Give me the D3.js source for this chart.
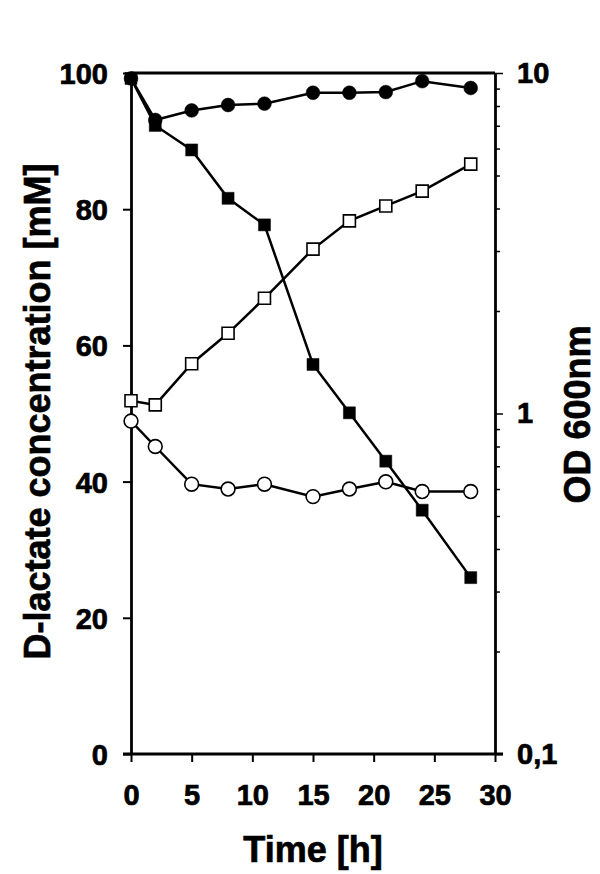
<!DOCTYPE html>
<html>
<head>
<meta charset="utf-8">
<script src="https://cdn.jsdelivr.net/npm/d3@7"></script>
<style>
  body { margin: 0; background: #fff; }
  svg { font-family: "Liberation Sans", Arial, sans-serif; font-weight: bold; }
  text { stroke: #000; stroke-width: 0.7px; }
</style>
</head>
<body>
<svg width="600" height="874"></svg>
<script>
// ---- data
const time = [0, 2, 5, 8, 11, 15, 18, 21, 24, 28];
// D-lactate [mM], left axis
const lactateCells = [99.2, 92.3, 88.7, 81.6, 77.7, 57.2, 50.1, 43.0, 35.8, 25.9];   // filled squares
const lactateControl = [99.2, 93.1, 94.5, 95.3, 95.5, 97.1, 97.1, 97.2, 98.8, 97.8]; // filled circles
// OD 600nm, right axis (log)
const odCells = [1.09, 1.06, 1.40, 1.72, 2.18, 3.04, 3.68, 4.07, 4.50, 5.40];       // open squares
const odControl = [0.95, 0.80, 0.62, 0.60, 0.62, 0.57, 0.60, 0.63, 0.59, 0.59];    // open circles

const xTicks = [0, 5, 10, 15, 20, 25, 30];
const yTicks = [0, 20, 40, 60, 80, 100];
const odLabels = { 0.1: '0,1', 1: '1', 10: '10' };

const margin = { left: 131, right: 105, top: 73, bottom: 120 };
const svg = d3.select('svg');
const width = 600 - margin.left - margin.right;
const height = 874 - margin.top - margin.bottom;

const g = svg.append('g')
  .attr('transform', `translate(${margin.left}, ${margin.top})`);

// ---- scales
const x = d3.scaleLinear().domain([0, 30]).range([0, width]);
const y = d3.scaleLinear().domain([0, 100]).range([height, 0]);
const yOD = d3.scaleLog().domain([0.1, 10]).range([height, 0]);

// frame top line
g.append('line')
  .attr('x1', 0).attr('x2', width)
  .attr('y1', 0).attr('y2', 0)
  .attr('stroke', '#000').attr('stroke-width', 2.8);

// ---- axes
function styleAxis(sel) {
  sel.select('.domain').attr('stroke-width', 2.8);
  sel.selectAll('.tick line').attr('stroke-width', 2);
  sel.selectAll('.tick text').attr('font-size', 29).attr('font-weight', 'bold').attr('fill', '#000');
}

g.append('g')
  .attr('transform', `translate(0, ${height})`)
  .call(d3.axisBottom(x).tickValues(xTicks).tickSize(8).tickSizeOuter(0).tickPadding(22))
  .call(styleAxis)
  .call(a => a.select('.domain').attr('d', `M-8,0H${width + 8}`));

g.append('g')
  .call(d3.axisLeft(y).tickValues(yTicks).tickSize(8).tickSizeOuter(0).tickPadding(15))
  .call(styleAxis)
  .call(a => a.selectAll('.tick text').attr('dy', '0.36em'));

const rightAxis = g.append('g')
  .attr('transform', `translate(${width}, 0)`)
  .call(d3.axisRight(yOD).tickValues(yOD.ticks()).tickSize(8).tickSizeOuter(0).tickPadding(14)
    .tickFormat(d => odLabels[d] || ''))
  .call(styleAxis);
rightAxis.selectAll('.tick line')
  .attr('x2', d => odLabels[d] ? 8 : 5)
  .attr('stroke-width', 1.5);

// ---- axis titles
svg.append('text')
  .attr('transform', `translate(50, ${margin.top + height / 2 - 2}) rotate(-90)`)
  .attr('text-anchor', 'middle')
  .attr('font-size', 36)
  .text('D-lactate concentration [mM]');

svg.append('text')
  .attr('transform', `translate(590, ${margin.top + yOD(1) + 1}) rotate(-90)`)
  .attr('text-anchor', 'middle')
  .attr('font-size', 36)
  .text('OD 600nm');

svg.append('text')
  .attr('x', margin.left + x(15))
  .attr('y', 862)
  .attr('text-anchor', 'middle')
  .attr('font-size', 36)
  .text('Time [h]');

// ---- series
function series(values, scale, shape, fill) {
  const pts = time.map((t, i) => ({ t, v: values[i] }));
  const line = d3.line().x(d => x(d.t)).y(d => scale(d.v));
  const grp = g.append('g');
  grp.append('path')
    .datum(pts)
    .attr('d', line)
    .attr('fill', 'none')
    .attr('stroke', '#000')
    .attr('stroke-width', 2.5);
  const sym = d3.symbol().type(shape === 'square' ? d3.symbolSquare : d3.symbolCircle)
    .size(shape === 'square' ? 144 : 150);
  grp.selectAll('path.pt')
    .data(pts)
    .join('path')
    .attr('class', 'pt')
    .attr('transform', d => `translate(${x(d.t)}, ${scale(d.v)})`)
    .attr('d', sym)
    .attr('fill', fill)
    .attr('stroke', '#000')
    .attr('stroke-width', fill === '#fff' ? 1.6 : 0.5);
}

series(lactateControl, y, 'circle', '#000');
series(odCells, yOD, 'square', '#fff');
series(lactateCells, y, 'square', '#000');
series(odControl, yOD, 'circle', '#fff');
</script>
</body>
</html>
